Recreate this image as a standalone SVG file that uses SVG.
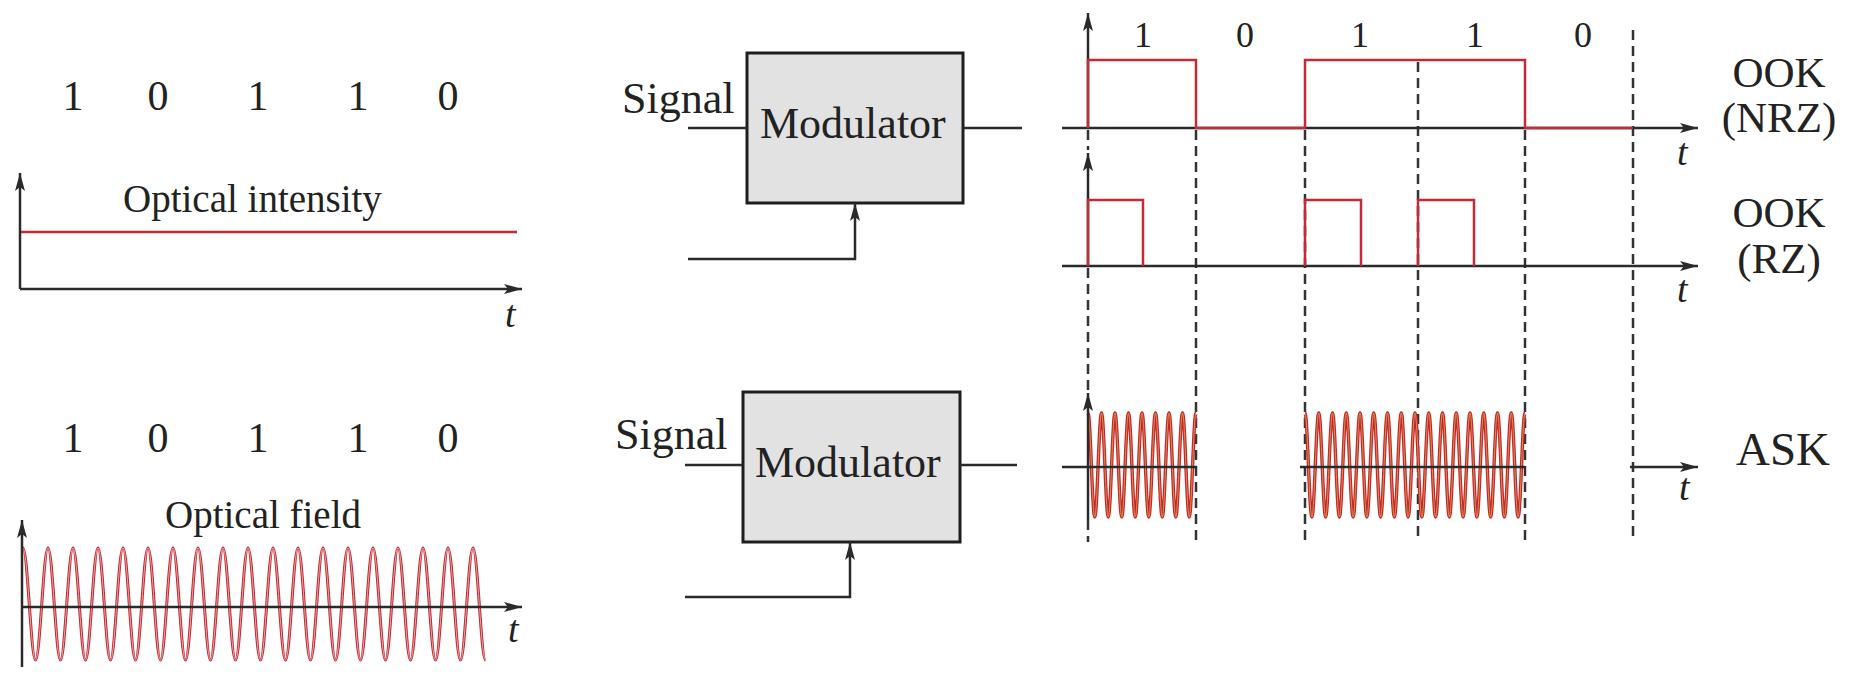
<svg xmlns="http://www.w3.org/2000/svg" width="1857" height="677" viewBox="0 0 1857 677">
<style>
text{font-family:"Liberation Serif","Times New Roman",serif;fill:#222}
.bit{font-size:42px;text-anchor:middle}
.rbit{font-size:36px;text-anchor:middle}
.lbl{font-size:39px}
.box{font-size:44px}
.name{font-size:43px;text-anchor:middle}
.t{font-size:38px;font-style:italic}
.ax{fill:none;stroke:#2a2a2a;stroke-width:2.5}
.ar{marker-end:url(#ah)}
.dash{fill:none;stroke:#333;stroke-width:2.5;stroke-dasharray:10 6}
.red{fill:none;stroke:#c42a36;stroke-width:2.5}
.wave{fill:none;stroke:#c02832;stroke-width:3}
.waveA{fill:none;stroke:#c02832;stroke-width:3.4}
.waveL{fill:none;stroke:#f2b0b0;stroke-width:0.9}
.waveY{fill:none;stroke:#e8a848;stroke-width:0.8}
.mod{fill:#e2e2e2;stroke:#1e1e1e;stroke-width:3}
</style>
<defs>
<marker id="ah" viewBox="0 0 18 10" refX="18" refY="5" markerWidth="18" markerHeight="10" markerUnits="userSpaceOnUse" orient="auto">
<path d="M0,0 L18,5 L0,10 L4,5 z" fill="#2a2a2a"/>
</marker>
<path id="sineL" d="M23,548 c4.55,0 7.95,112 12.5,112 s7.95,-112 12.5,-112 s7.95,112 12.5,112 s7.95,-112 12.5,-112 s7.95,112 12.5,112 s7.95,-112 12.5,-112 s7.95,112 12.5,112 s7.95,-112 12.5,-112 s7.95,112 12.5,112 s7.95,-112 12.5,-112 s7.95,112 12.5,112 s7.95,-112 12.5,-112 s7.95,112 12.5,112 s7.95,-112 12.5,-112 s7.95,112 12.5,112 s7.95,-112 12.5,-112 s7.95,112 12.5,112 s7.95,-112 12.5,-112 s7.95,112 12.5,112 s7.95,-112 12.5,-112 s7.95,112 12.5,112 s7.95,-112 12.5,-112 s7.95,112 12.5,112 s7.95,-112 12.5,-112 s7.95,112 12.5,112 s7.95,-112 12.5,-112 s7.95,112 12.5,112 s7.95,-112 12.5,-112 s7.95,112 12.5,112 s7.95,-112 12.5,-112 s7.95,112 12.5,112 s7.95,-112 12.5,-112 s7.95,112 12.5,112 s7.95,-112 12.5,-112 s7.95,112 12.5,112 s7.95,-112 12.5,-112 s7.95,112 12.5,112"/>
<path id="ask1" d="M1088,413 c2.46,0 4.29,104 6.75,104 s4.29,-104 6.75,-104 s4.29,104 6.75,104 s4.29,-104 6.75,-104 s4.29,104 6.75,104 s4.29,-104 6.75,-104 s4.29,104 6.75,104 s4.29,-104 6.75,-104 s4.29,104 6.75,104 s4.29,-104 6.75,-104 s4.29,104 6.75,104 s4.29,-104 6.75,-104 s4.29,104 6.75,104 s4.29,-104 6.75,-104 s4.29,104 6.75,104 s4.29,-104 6.75,-104"/>
<path id="ask2" d="M1305,413 c2.5,0 4.375,104 6.875,104 s4.375,-104 6.875,-104 s4.375,104 6.875,104 s4.375,-104 6.875,-104 s4.375,104 6.875,104 s4.375,-104 6.875,-104 s4.375,104 6.875,104 s4.375,-104 6.875,-104 s4.375,104 6.875,104 s4.375,-104 6.875,-104 s4.375,104 6.875,104 s4.375,-104 6.875,-104 s4.375,104 6.875,104 s4.375,-104 6.875,-104 s4.375,104 6.875,104 s4.375,-104 6.875,-104 s4.375,104 6.875,104 s4.375,-104 6.875,-104 s4.375,104 6.875,104 s4.375,-104 6.875,-104 s4.375,104 6.875,104 s4.375,-104 6.875,-104 s4.375,104 6.875,104 s4.375,-104 6.875,-104 s4.375,104 6.875,104 s4.375,-104 6.875,-104 s4.375,104 6.875,104 s4.375,-104 6.875,-104 s4.375,104 6.875,104 s4.375,-104 6.875,-104 s4.375,104 6.875,104 s4.375,-104 6.875,-104"/>
</defs>
<rect width="1857" height="677" fill="#fff"/>

<g id="intensity-plot">
<text class="bit" x="73" y="110">1</text>
<text class="bit" x="158" y="110">0</text>
<text class="bit" x="258" y="110">1</text>
<text class="bit" x="358" y="110">1</text>
<text class="bit" x="448" y="110">0</text>
<text class="lbl" x="123" y="212">Optical intensity</text>
<path class="red" d="M20,232 H517"/>
<path class="ax ar" d="M20,289 V173"/>
<path class="ax ar" d="M20,289 H522"/>
<text class="t" x="505" y="327">t</text>
</g>

<g id="field-plot">
<text class="bit" x="73" y="452">1</text>
<text class="bit" x="158" y="452">0</text>
<text class="bit" x="258" y="452">1</text>
<text class="bit" x="358" y="452">1</text>
<text class="bit" x="448" y="452">0</text>
<text class="lbl" x="165" y="528">Optical field</text>
<use href="#sineL" class="wave"/>
<use href="#sineL" class="waveL"/>
<path class="ax ar" d="M22,667 V520"/>
<path class="ax ar" d="M22,607 H522"/>
<text class="t" x="508" y="642">t</text>
</g>

<g id="modulator-top">
<rect class="mod" x="747" y="53" width="216" height="150"/>
<text class="box" x="760" y="138">Modulator</text>
<text class="box" x="622" y="113">Signal</text>
</g>

<g id="modulator-bottom">
<rect class="mod" x="743" y="392" width="217" height="150"/>
<text class="box" x="755" y="477">Modulator</text>
<text class="box" x="615" y="449">Signal</text>
</g>

<g id="connectors">
<path class="ax" d="M688,128 H747"/>
<path class="ax" d="M963,128 H1022"/>
<path class="ax ar" d="M688,259 H855 V203"/>
<path class="ax" d="M685,465 H743"/>
<path class="ax" d="M960,465 H1017"/>
<path class="ax ar" d="M685,597 H850 V542"/>
</g>

<g id="bit-boundaries">
<path class="dash" d="M1088,130 V150 M1088,268 V390 M1088,520 V542"/>
<path class="dash" d="M1196,130 V542"/>
<path class="dash" d="M1305,130 V542"/>
<path class="dash" d="M1418,62 V542"/>
<path class="dash" d="M1525,130 V542"/>
<path class="dash" d="M1633,30 V542"/>
</g>

<g id="ook-nrz">
<text class="rbit" x="1143" y="47">1</text>
<text class="rbit" x="1245" y="47">0</text>
<text class="rbit" x="1360" y="47">1</text>
<text class="rbit" x="1475" y="47">1</text>
<text class="rbit" x="1583" y="47">0</text>
<path class="ax ar" d="M1088,128 V13"/>
<path class="ax ar" d="M1062,128 H1698"/>
<path class="red" d="M1088,128 V60 H1196 V128 H1305 V60 H1525 V128 H1633"/>
<text class="t" x="1677" y="165">t</text>
<text class="name" x="1779" y="87">OOK</text>
<text class="name" x="1779" y="132">(NRZ)</text>
</g>

<g id="ook-rz">
<path class="ax ar" d="M1088,266 V153"/>
<path class="ax ar" d="M1062,266 H1698"/>
<path class="red" d="M1088,266 V200 H1143 V266 M1305,266 V200 H1361 V266 M1418,266 V200 H1474 V266"/>
<text class="t" x="1677" y="302">t</text>
<text class="name" x="1779" y="227">OOK</text>
<text class="name" x="1779" y="273">(RZ)</text>
</g>

<g id="ask">
<use href="#ask1" class="waveA"/>
<use href="#ask1" class="waveY"/>
<use href="#ask2" class="waveA"/>
<use href="#ask2" class="waveY"/>
<path class="ax" d="M1062,467 H1197 M1300,467 H1525"/>
<path class="ax ar" d="M1630,467 H1698"/>
<path class="ax ar" d="M1088,520 V393"/>
<text class="t" x="1679" y="500">t</text>
<text class="name" x="1783" y="465" style="font-size:47px">ASK</text>
</g>
</svg>
